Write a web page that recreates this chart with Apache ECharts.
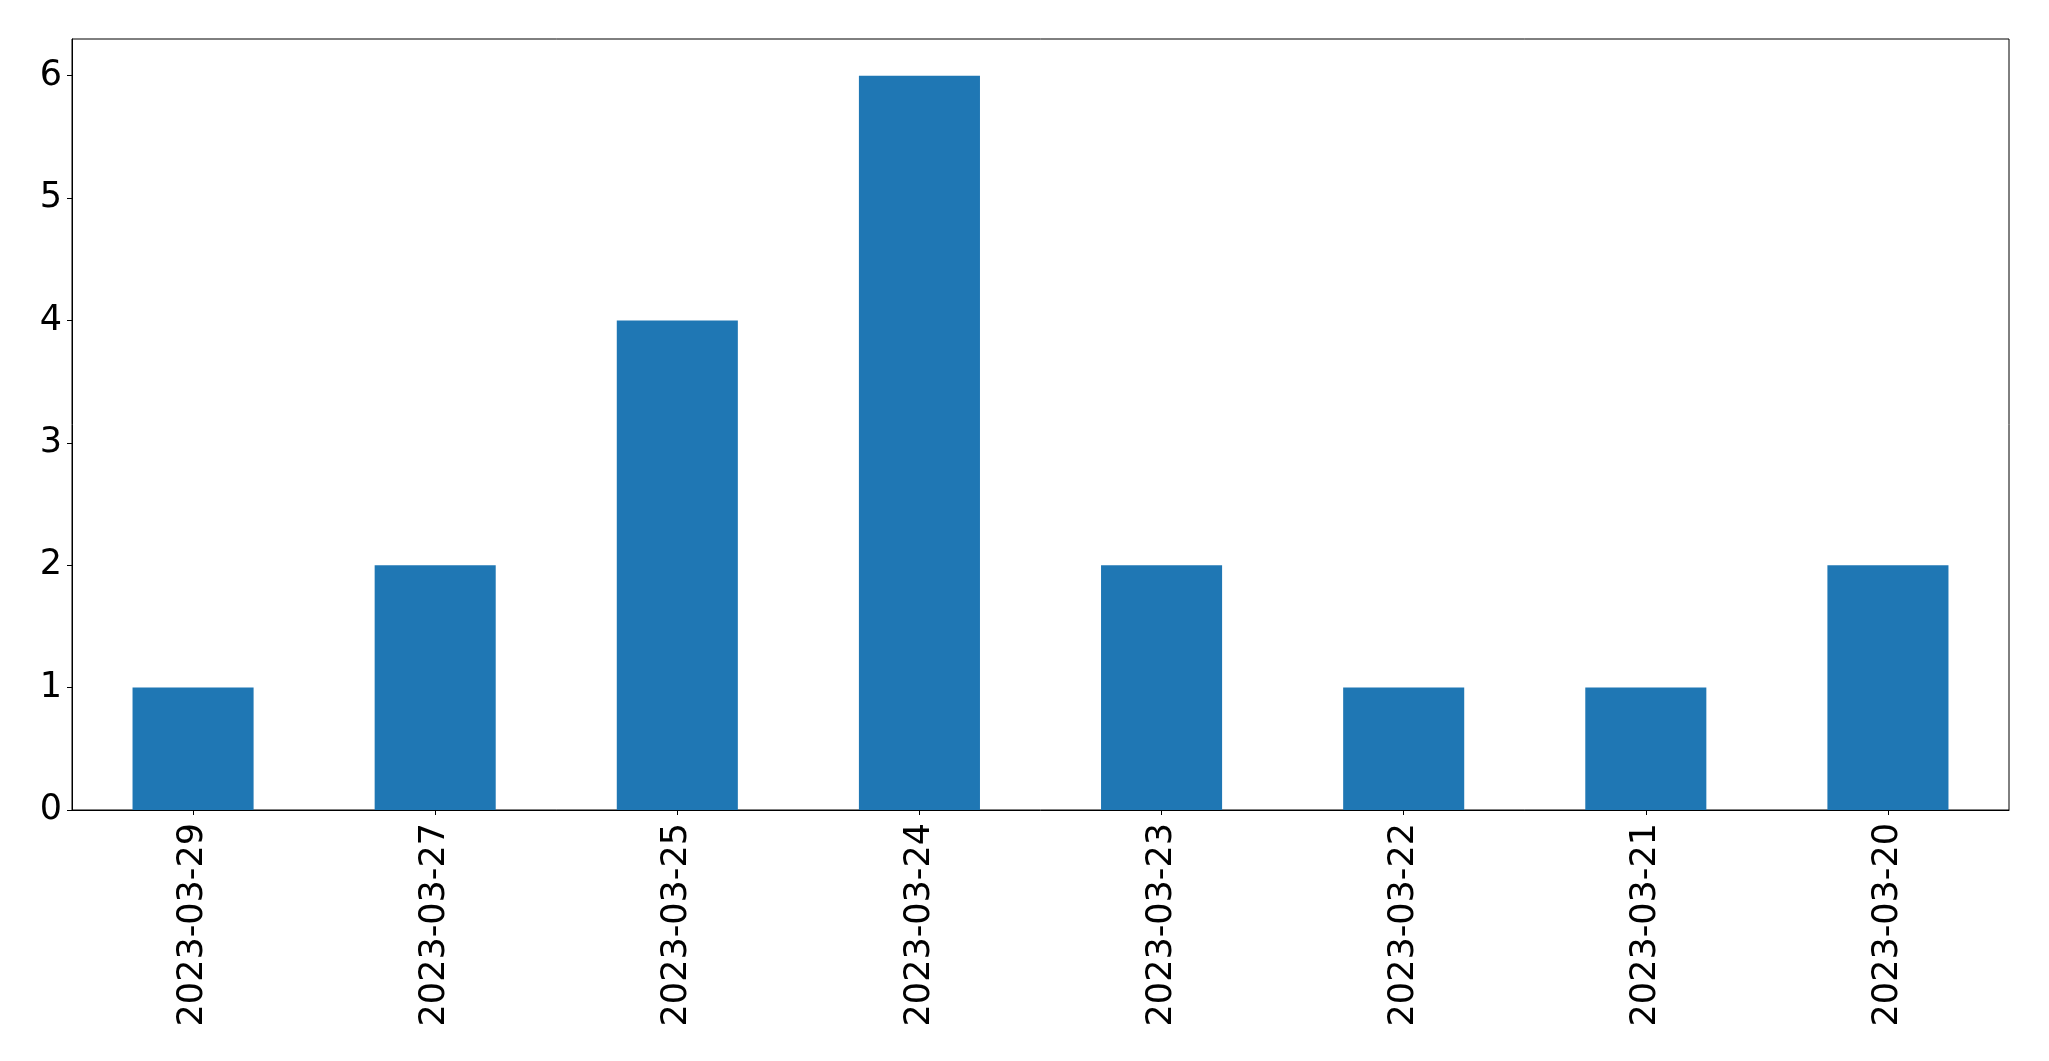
<!DOCTYPE html>
<html>
<head>
<meta charset="utf-8">
<script src="https://cdn.jsdelivr.net/npm/echarts@6/dist/echarts.min.js"></script>
<style>
html,body{margin:0;padding:0;background:#fff;}
#chart{width:2049px;height:1061px;}
</style>
</head>
<body>
<div id="chart"></div>
<script>
const categories = ["2023-03-29","2023-03-27","2023-03-25","2023-03-24","2023-03-23","2023-03-22","2023-03-21","2023-03-20"];
const counts = [1, 2, 4, 6, 2, 1, 1, 2];
const yTicks = [0, 1, 2, 3, 4, 5, 6];

const chart = echarts.init(document.getElementById('chart'), null, {renderer: 'canvas'});
const font = 'DejaVu Sans';
chart.setOption({
  animation: false,
  backgroundColor: '#ffffff',
  grid: {
    left: 72, right: 40, top: 39, bottom: 251,
    show: true, borderColor: '#000', borderWidth: 1, backgroundColor: 'transparent'
  },
  xAxis: {
    type: 'category',
    data: categories,
    boundaryGap: true,
    axisLine: {show: true, lineStyle: {color: '#000', width: 1}},
    axisTick: {show: true, alignWithLabel: true, length: 5, lineStyle: {color: '#000', width: 1}},
    axisLabel: {
      rotate: 90, margin: 13, color: '#000', fontFamily: font, fontSize: 35, interval: 0
    },
    splitLine: {show: false}
  },
  yAxis: {
    type: 'value',
    min: 0, max: 6.3, interval: 1,
    axisLine: {show: true, lineStyle: {color: '#000', width: 1}},
    axisTick: {show: true, length: 5, customValues: yTicks, lineStyle: {color: '#000', width: 1}},
    axisLabel: {color: '#000', fontFamily: font, fontSize: 35, margin: 10, padding: [6, 0, 0, 0], customValues: yTicks},
    splitLine: {show: false}
  },
  series: [{
    type: 'bar',
    data: counts,
    barWidth: '50%',
    itemStyle: {color: '#1f77b4'}
  }]
});
</script>
</body>
</html>
